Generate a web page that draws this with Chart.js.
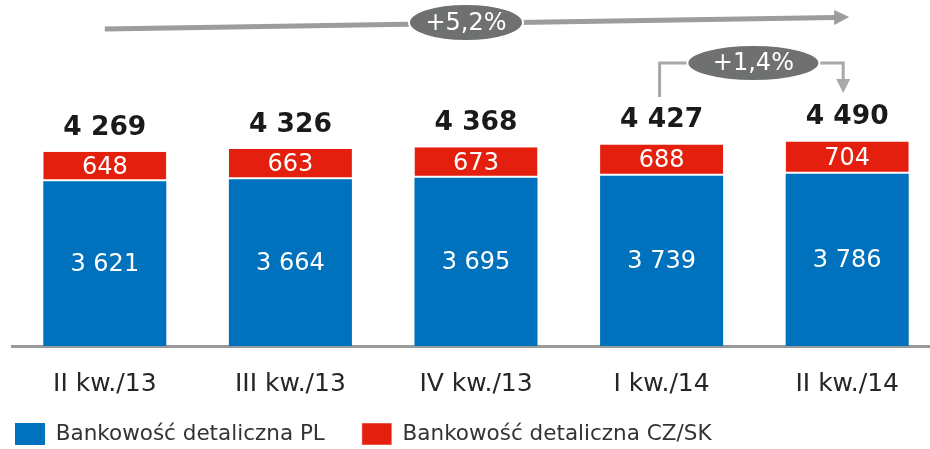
<!DOCTYPE html>
<html>
<head>
<meta charset="utf-8">
<script src="https://cdn.jsdelivr.net/npm/chart.js@4.4.1/dist/chart.umd.min.js"></script>
<style>
  html, body { margin: 0; padding: 0; background: #fff; overflow: hidden; }
  #wrap { position: relative; width: 940px; height: 491px; }
</style>
</head>
<body>
<div id="wrap"><canvas id="chart"></canvas></div>
<script>
const categories = ["II kw./13", "III kw./13", "IV kw./13", "I kw./14", "II kw./14"]
const retailPL = [3621, 3664, 3695, 3739, 3786]
const retailCZSK = [648, 663, 673, 688, 704]
const totals = [4269, 4326, 4368, 4427, 4490]
const growthYear = "+5,2%"
const growthQuarter = "+1,4%"

const FONT = "'DejaVu Sans', Verdana, sans-serif"
const BLUE = "#0071bc"
const RED = "#e41f0d"
const GREY = "#9c9c9c"
const LEGEND_PAD = 37

function fmt(v) {
  return String(v).replace(/\B(?=(\d{3})+(?!\d))/g, " ")
}

// numbers inside the segments and the bold totals above each bar
const labelsPlugin = {
  id: "labels",
  beforeDraw(chart) {
    // legend sits flush left, just under the category labels
    chart.legend.left = 15 - LEGEND_PAD
    chart.legend.top = 423 - LEGEND_PAD
  },
  afterDatasetsDraw(chart) {
    const ctx = chart.ctx
    ctx.save()
    ctx.textAlign = "center"
    ctx.textBaseline = "middle"
    chart.data.datasets.forEach(function (ds, di) {
      chart.getDatasetMeta(di).data.forEach(function (bar, i) {
        ctx.fillStyle = "#fff"
        ctx.font = "24px " + FONT
        ctx.fillText(fmt(ds.data[i]), bar.x, (bar.y + bar.base) / 2 + 1)
      })
    })
    let top = chart.getDatasetMeta(1).data
    top.forEach(function (bar, i) {
      ctx.fillStyle = "#1a1a1a"
      ctx.font = "bold 26.5px " + FONT
      ctx.fillText(fmt(totals[i]), bar.x, bar.y - 24)
    })
    ctx.restore()
  },
}

function ellipseLabel(ctx, cx, cy, rx, ry, text) {
  ctx.beginPath()
  ctx.ellipse(cx, cy, rx, ry, 0, 0, Math.PI * 2)
  ctx.fillStyle = "#6e7170"
  ctx.fill()
  ctx.lineWidth = 2
  ctx.strokeStyle = "#fff"
  ctx.stroke()
  ctx.fillStyle = "#fff"
  ctx.font = "24px " + FONT
  ctx.textAlign = "center"
  ctx.textBaseline = "middle"
  ctx.fillText(text, cx, cy + 1)
}

// growth arrows across the top
const arrowsPlugin = {
  id: "arrows",
  afterDraw(chart) {
    const ctx = chart.ctx
    const xs = chart.scales.x
    const x0 = xs.getPixelForValue(0)
    const x3 = xs.getPixelForValue(3)
    const x4 = xs.getPixelForValue(4)
    ctx.save()

    // long arrow, slightly rising
    ctx.strokeStyle = GREY
    ctx.lineWidth = 5
    ctx.beginPath()
    ctx.moveTo(x0, 29)
    ctx.lineTo(x4 - 12, 17.5)
    ctx.stroke()
    ctx.fillStyle = GREY
    ctx.beginPath()
    ctx.moveTo(x4 + 2, 17)
    ctx.lineTo(x4 - 13, 10)
    ctx.lineTo(x4 - 13, 25)
    ctx.closePath()
    ctx.fill()
    ellipseLabel(ctx, xs.getPixelForValue(2) - 10, 22.5, 57, 18.5, growthYear)

    // bracket arrow from quarter 4 to quarter 5
    const cx = (x3 + x4) / 2 - 1
    ctx.strokeStyle = "#a8a8a8"
    ctx.lineWidth = 3
    ctx.beginPath()
    ctx.moveTo(x3 - 2, 97)
    ctx.lineTo(x3 - 2, 63)
    ctx.lineTo(cx, 63)
    ctx.moveTo(cx, 63)
    ctx.lineTo(x4 - 4, 63)
    ctx.lineTo(x4 - 4, 80)
    ctx.stroke()
    ctx.fillStyle = "#a8a8a8"
    ctx.beginPath()
    ctx.moveTo(x4 - 4, 93)
    ctx.lineTo(x4 - 11, 79)
    ctx.lineTo(x4 + 3, 79)
    ctx.closePath()
    ctx.fill()
    ellipseLabel(ctx, cx, 63, 66, 18, growthQuarter)

    ctx.restore()
  },
}

const config = {
  type: "bar",
  data: {
    labels: categories,
    datasets: [
      {
        label: "Bankowość detaliczna PL",
        data: retailPL,
        backgroundColor: BLUE,
        borderWidth: 0,
      },
      {
        label: "Bankowość detaliczna CZ/SK",
        data: retailCZSK,
        backgroundColor: RED,
        borderColor: "#fff",
        borderWidth: { top: 0, left: 0, right: 0, bottom: 2 },
        borderSkipped: false,
      },
    ],
  },
  options: {
    responsive: false,
    animation: false,
    layout: {
      padding: { left: 0, right: 0, top: 0, bottom: 0 },
    },
    datasets: {
      bar: {
        barPercentage: 0.663,
        categoryPercentage: 1,
      },
    },
    plugins: {
      legend: {
        position: "bottom",
        align: "start",
        labels: {
          boxWidth: 30,
          boxHeight: 22,
          padding: LEGEND_PAD,
          color: "#333",
          font: { family: FONT, size: 21.5 },
        },
      },
      tooltip: { enabled: false },
    },
    scales: {
      x: {
        stacked: true,
        grid: { display: false, drawTicks: false },
        border: { display: true, color: "#9a9a9a", width: 3 },
        ticks: {
          color: "#262626",
          padding: 23,
          font: { family: FONT, size: 25 },
        },
      },
      y: {
        stacked: true,
        min: 0,
        max: 7600,
        display: true,
        grid: { display: false },
        border: { display: false },
        ticks: { display: false },
        afterFit: function (scale) {
          scale.width = 12
        },
      },
    },
  },
  plugins: [labelsPlugin, arrowsPlugin],
}

const canvas = document.getElementById("chart")
canvas.width = 940
canvas.height = 491
new Chart(canvas, config)
</script>
</body>
</html>
